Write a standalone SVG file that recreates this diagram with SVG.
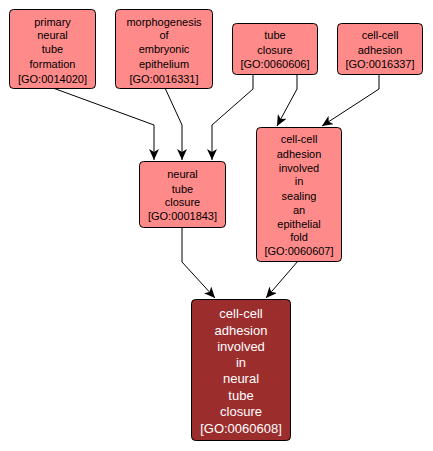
<svg xmlns="http://www.w3.org/2000/svg" width="433" height="451" viewBox="0 0 433 451">
<defs>
<style>
.n rect{fill:#FF8A8A;stroke:#000;stroke-width:1}
.n text{font-family:"Liberation Sans",Arial,sans-serif;font-size:11px;fill:#000;text-anchor:middle}
.d rect{fill:#9C2D2D;stroke:#000;stroke-width:1}
.d text{font-family:"Liberation Sans",Arial,sans-serif;font-size:13px;fill:#fff;text-anchor:middle}
.e path{fill:none;stroke:#000;stroke-width:1;marker-end:url(#ah)}
</style>
<marker id="ah" markerWidth="12" markerHeight="10" refX="11" refY="5" orient="auto" markerUnits="userSpaceOnUse">
<path d="M0,0 L11,5 L0,10 L3,5 z" fill="#000"/>
</marker>
</defs>
<rect width="433" height="451" fill="#fff"/>
<g id="edges" class="e">
<path d="M53,88 L154,125 L154,160"/>
<path d="M165,88 L182,125 L182,160"/>
<path d="M253,74 L253,89 L212,125 L212,160"/>
<path d="M297,74 L297,89 L277,126"/>
<path d="M379,74 L379,89 L322,126"/>
<path d="M182,227 L182,262 L215,298"/>
<path d="M298,261 L266,298"/>
</g>
<g id="GO0014020" class="n">
<rect x="9.5" y="9.5" width="86" height="79" rx="4"/>
<text x="52.5" y="26">primary</text>
<text x="52.5" y="39">neural</text>
<text x="52.5" y="52.5">tube</text>
<text x="52.5" y="67.5">formation</text>
<text x="52.5" y="82.5">[GO:0014020]</text>
</g>
<g id="GO0016331" class="n">
<rect x="115.5" y="9.5" width="97" height="79" rx="4"/>
<text x="164" y="26">morphogenesis</text>
<text x="164" y="39">of</text>
<text x="164" y="52.5">embryonic</text>
<text x="164" y="67.5">epithelium</text>
<text x="164" y="82.5">[GO:0016331]</text>
</g>
<g id="GO0060606" class="n">
<rect x="232.5" y="23.5" width="85" height="51" rx="4"/>
<text x="275" y="39">tube</text>
<text x="275" y="53.5">closure</text>
<text x="275" y="68">[GO:0060606]</text>
</g>
<g id="GO0016337" class="n">
<rect x="337.5" y="23.5" width="85" height="51" rx="4"/>
<text x="380" y="39">cell-cell</text>
<text x="380" y="53.5">adhesion</text>
<text x="380" y="68">[GO:0016337]</text>
</g>
<g id="GO0001843" class="n">
<rect x="139.5" y="161.5" width="86" height="66" rx="4"/>
<text x="182.5" y="178">neural</text>
<text x="182.5" y="192.5">tube</text>
<text x="182.5" y="206">closure</text>
<text x="182.5" y="220">[GO:0001843]</text>
</g>
<g id="GO0060607" class="n">
<rect x="256.5" y="127.5" width="85" height="134" rx="4"/>
<text x="299" y="142.5">cell-cell</text>
<text x="299" y="157.5">adhesion</text>
<text x="299" y="171.5">involved</text>
<text x="299" y="185">in</text>
<text x="299" y="199.5">sealing</text>
<text x="299" y="213.5">an</text>
<text x="299" y="227.5">epithelial</text>
<text x="299" y="241">fold</text>
<text x="299" y="255">[GO:0060607]</text>
</g>
<g id="GO0060608" class="d">
<rect x="191.5" y="299.5" width="99" height="141" rx="4"/>
<text x="241" y="318">cell-cell</text>
<text x="241" y="334.5">adhesion</text>
<text x="241" y="351">involved</text>
<text x="241" y="367">in</text>
<text x="241" y="383">neural</text>
<text x="241" y="399.5">tube</text>
<text x="241" y="416">closure</text>
<text x="241" y="432.5">[GO:0060608]</text>
</g>
</svg>
